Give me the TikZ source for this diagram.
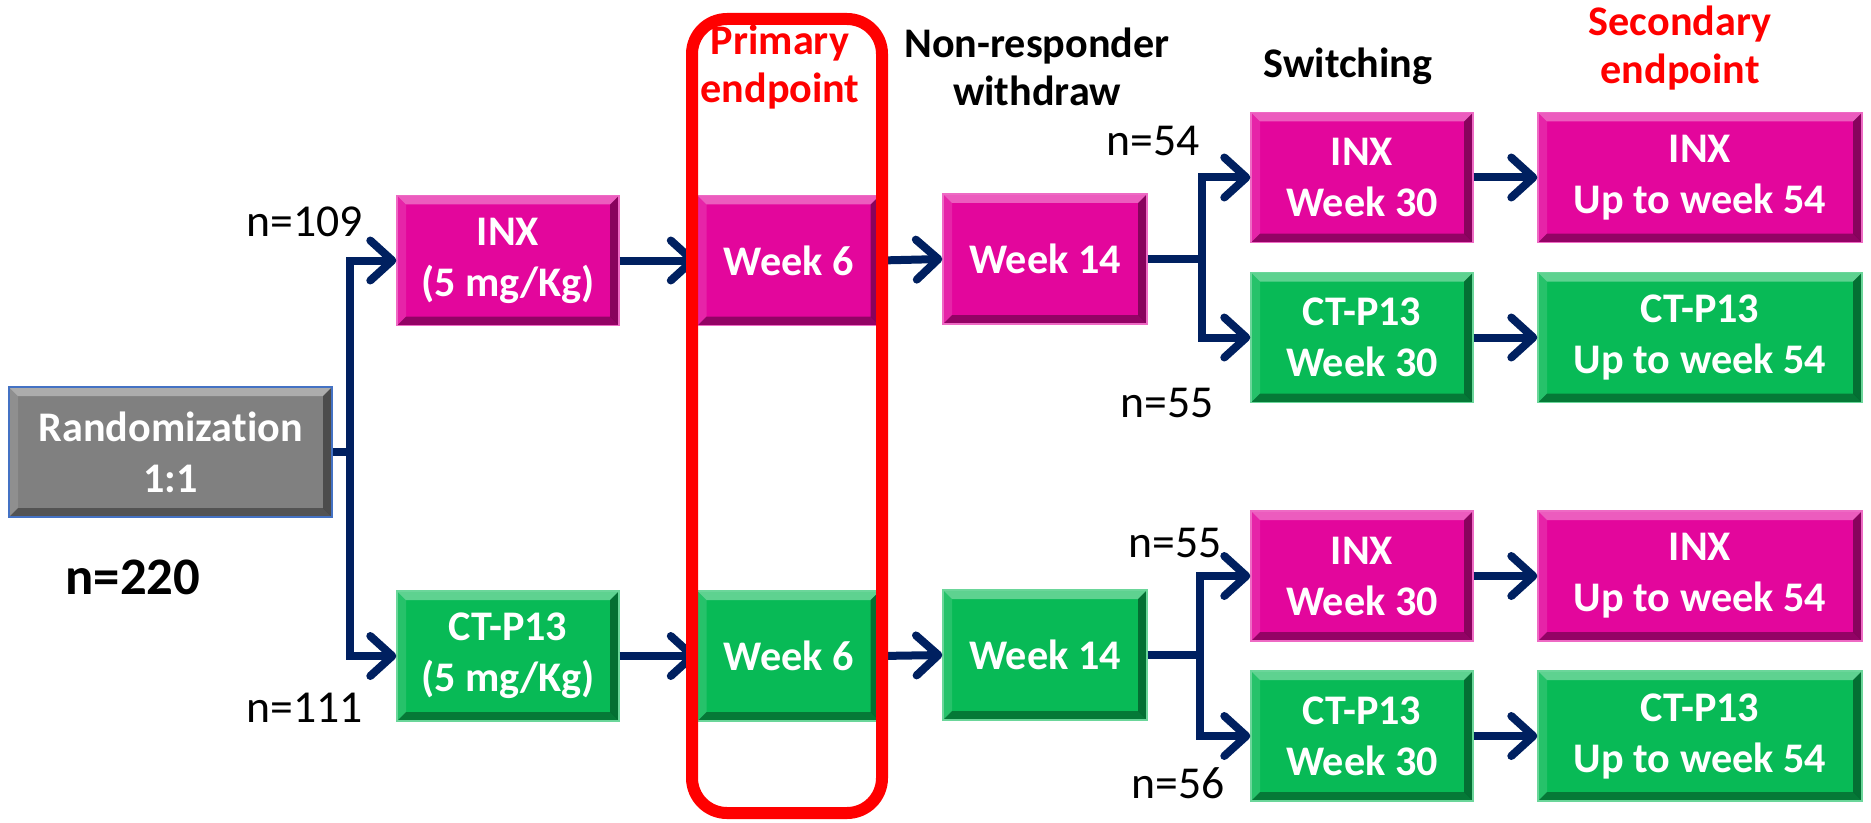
\documentclass[tikz,border=0pt]{standalone}
\usepackage{fontspec}
\setmainfont{Carlito}[Ligatures=NoCommon]
\usetikzlibrary{arrows.meta,positioning}

\definecolor{navy}{RGB}{0,32,96}
\definecolor{inxpink}{RGB}{227,6,156}
\definecolor{ctgreen}{RGB}{8,186,86}
\definecolor{randgray}{RGB}{128,128,128}
\definecolor{randedge}{RGB}{68,114,196}
\definecolor{endred}{RGB}{255,0,0}

% bevelled faces of a box
\newcommand\bevelfaces{%
  \fill[white,opacity=0.35] (path picture bounding box.north west) -- (path picture bounding box.north east)
      -- ([shift={(-0.09,-0.09)}]path picture bounding box.north east) -- ([shift={(0.09,-0.09)}]path picture bounding box.north west) -- cycle;
  \fill[white,opacity=0.12] (path picture bounding box.north west) -- (path picture bounding box.south west)
      -- ([shift={(0.09,0.09)}]path picture bounding box.south west) -- ([shift={(0.09,-0.09)}]path picture bounding box.north west) -- cycle;
  \fill[black,opacity=0.40] (path picture bounding box.north east) -- (path picture bounding box.south east)
      -- ([shift={(-0.09,0.09)}]path picture bounding box.south east) -- ([shift={(-0.09,-0.09)}]path picture bounding box.north east) -- cycle;
  \fill[black,opacity=0.35] (path picture bounding box.south west) -- (path picture bounding box.south east)
      -- ([shift={(-0.09,0.09)}]path picture bounding box.south east) -- ([shift={(0.09,0.09)}]path picture bounding box.south west) -- cycle;
}

\tikzset{
  box/.style={rectangle, minimum height=1.30cm, inner sep=0pt, align=center, text=white,
              font=\fontsize{12}{14.5}\selectfont\bfseries, path picture={\bevelfaces}},
  inxbox/.style={box, fill=inxpink, draw=inxpink!60!white, line width=0.4pt},
  ctbox/.style={box, fill=ctgreen, draw=ctgreen!60!white, line width=0.4pt},
  randbox/.style={box, fill=randgray, draw=randedge, line width=0.8pt},
  head/.style={align=center, font=\fontsize{12}{13.6}\selectfont\bfseries},
  nlabel/.style={font=\fontsize{13}{15}\selectfont},
  link/.style={draw=navy, line width=0.08cm},
  flow/.style={link, -{Straight Barb[length=0.22cm,width=0.40cm,line cap=round,line join=round]}},
}

\begin{document}
\begin{tikzpicture}
    \useasboundingbox (0,0) rectangle (18.71,8.22);

    % Randomization
    \node[randbox, minimum width=3.23cm] (rand) at (1.705,3.70) {Randomization\\1:1};
    \node[font=\fontsize{15}{18}\selectfont\bfseries] (ntotal) at (1.33,2.45) {n=220};

    % Treatment arms
    \node[inxbox, minimum width=2.22cm] (inx1) at (5.08,5.615) {INX\\(5 mg/Kg)};
    \node[ctbox,  minimum width=2.22cm] (ct1)  at (5.08,1.66)  {CT-P13\\(5 mg/Kg)};
    \node[nlabel] (n109) at (3.05,6.00) {n=109};
    \node[nlabel] (n111) at (3.05,1.14) {n=111};

    % Primary endpoint
    \node[inxbox, minimum width=1.82cm] (wk6a) at (7.885,5.615) {Week 6};
    \node[ctbox,  minimum width=1.82cm] (wk6b) at (7.885,1.66)  {Week 6};
    \node[head, text=endred] (prim) at (7.80,7.55) {Primary\\endpoint};

    % Non-responder withdraw
    \node[inxbox, minimum width=2.04cm] (wk14a) at (10.45,5.63) {Week 14};
    \node[ctbox,  minimum width=2.04cm] (wk14b) at (10.45,1.67) {Week 14};
    \node[head] (withdraw) at (10.37,7.55) {Non-responder\\withdraw};

    % Switching
    \node[inxbox, minimum width=2.22cm] (swa) at (13.62,6.445) {INX\\Week 30};
    \node[ctbox,  minimum width=2.22cm] (swb) at (13.62,4.845) {CT-P13\\Week 30};
    \node[inxbox, minimum width=2.22cm] (swc) at (13.62,2.46)  {INX\\Week 30};
    \node[ctbox,  minimum width=2.22cm] (swd) at (13.62,0.86)  {CT-P13\\Week 30};
    \node[head] (switch) at (13.48,7.56) {Switching};
    \node[nlabel] (n54)  at (11.53,6.81) {n=54};
    \node[nlabel] (n55a) at (11.67,4.19) {n=55};
    \node[nlabel] (n55b) at (11.75,2.79) {n=55};
    \node[nlabel] (n56)  at (11.78,0.39) {n=56};

    % Secondary endpoint
    \node[inxbox, minimum width=3.24cm] (seca) at (17.00,6.445) {INX\\Up to week 54};
    \node[ctbox,  minimum width=3.24cm] (secb) at (17.00,4.845) {CT-P13\\Up to week 54};
    \node[inxbox, minimum width=3.24cm] (secc) at (17.00,2.46)  {INX\\Up to week 54};
    \node[ctbox,  minimum width=3.24cm] (secd) at (17.00,0.86)  {CT-P13\\Up to week 54};
    \node[head, text=endred] (sec) at (16.80,7.74) {Secondary\\endpoint};

    % Randomization split
    \coordinate (split) at (3.50,3.70);
    \draw[link] (rand.east) -- (split);
    \draw[flow] (split) |- (inx1.west);
    \draw[flow] (split) |- (ct1.west);

    % Along the arms
    \draw[flow] (inx1.east) -- (wk6a.west);
    \draw[flow] (ct1.east)  -- (wk6b.west);
    \draw[flow] (wk6a.east) -- (wk14a.west);
    \draw[flow] (wk6b.east) -- (wk14b.west);

    % Switching splits
    \coordinate (splita) at (12.02,5.63);
    \coordinate (splitb) at (12.00,1.67);
    \draw[link] (wk14a.east) -- (splita);
    \draw[flow] (splita) |- (swa.west);
    \draw[flow] (splita) |- (swb.west);
    \draw[link] (wk14b.east) -- (splitb);
    \draw[flow] (splitb) |- (swc.west);
    \draw[flow] (splitb) |- (swd.west);

    \foreach \s/\t in {swa/seca, swb/secb, swc/secc, swd/secd}
        \draw[flow] (\s.east) -- (\t.west);

    % Primary endpoint frame
    \draw[endred, line width=0.12cm, rounded corners=0.35cm] (6.92,0.09) rectangle (8.82,8.03);
\end{tikzpicture}
\end{document}
